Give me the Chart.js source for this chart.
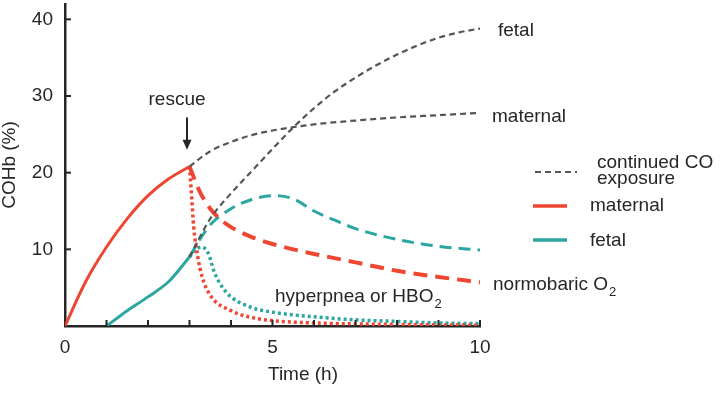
<!DOCTYPE html>
<html>
<head>
<meta charset="utf-8">
<script src="https://cdn.jsdelivr.net/npm/chart.js@4.4.0/dist/chart.umd.min.js"></script>
<style>
  body { margin: 0; background: #fff; }
  #wrap { width: 720px; height: 393px; position: relative; }
</style>
</head>
<body>
<div id="wrap"><canvas id="coChart"></canvas></div>
<script>
// hours / COHb (%)
var tMatExp = [0, 0.5, 1, 1.5, 2, 2.5, 3];
var vMatExp = [0, 5.8, 10.3, 14, 17, 19.2, 20.8];
var tFetExp = [1, 1.5, 2, 2.5, 3];
var vFetExp = [0, 2, 3.8, 5.8, 9];

var tMatCont = [3, 3.5, 4, 4.5, 5, 6, 7, 8, 9, 10];
var vMatCont = [20.8, 22.8, 24, 24.9, 25.5, 26.3, 26.8, 27.2, 27.5, 27.8];
var tFetCont = [3, 3.25, 3.5, 4, 4.5, 5, 5.5, 6, 6.5, 7, 7.5, 8, 8.5, 9, 9.5, 10];
var vFetCont = [9, 11.6, 14, 17.3, 20.2, 23.1, 25.9, 28.4, 30.6, 32.4, 34, 35.4, 36.6, 37.6, 38.3, 38.8];

var tMatO2 = [3, 3.25, 3.5, 3.75, 4, 4.5, 5, 5.5, 6, 7, 8, 9, 10];
var vMatO2 = [20.8, 17.5, 15.3, 13.9, 12.9, 11.6, 10.7, 10, 9.4, 8.3, 7.2, 6.4, 5.7];
var tFetO2 = [3, 3.25, 3.5, 4, 4.5, 5, 5.5, 6, 6.5, 7, 8, 9, 10];
var vFetO2 = [9, 11.3, 13.2, 15.3, 16.5, 17, 16.6, 15, 13.8, 12.7, 11.3, 10.4, 9.9];

var tMatHyp = [3, 3.05, 3.1, 3.2, 3.3, 3.5, 4, 4.5, 5, 6, 8, 10];
var vMatHyp = [20.8, 17, 13, 9, 6.5, 4, 2, 1.1, 0.7, 0.4, 0.2, 0.1];
var tFetHyp = [3, 3.15, 3.3, 3.45, 3.6, 3.8, 4, 4.5, 5, 6, 7, 8, 9, 10];
var vFetHyp = [9, 10, 10.3, 9.5, 7, 5, 3.8, 2.4, 1.8, 1.2, 0.8, 0.6, 0.4, 0.3];

var xTickLabels = [0, 5, 10];
var yTickLabels = [10, 20, 30, 40];

var RED = '#ef4631';
var TEAL = '#2ba6a0';
var GREY = '#555555';
var INK = '#262626';
var FONT = '"Liberation Sans", Arial, sans-serif';

function pts(ts, vs) {
  return ts.map(function (t, i) { return { x: t, y: vs[i] }; });
}

function line(ts, vs, color, width, dash) {
  return {
    data: pts(ts, vs),
    borderColor: color,
    borderWidth: width,
    borderDash: dash,
    pointRadius: 0,
    fill: false,
    cubicInterpolationMode: 'monotone'
  };
}

// tick marks point inward, labels and notes drawn on top
var notes = {
  id: 'notes',
  afterDraw: function (chart) {
    var c = chart.ctx, x = chart.scales.x, y = chart.scales.y;
    var a = chart.chartArea;
    c.save();
    c.strokeStyle = INK;
    c.lineWidth = 2;
    for (var h = 1; h <= 10; h++) {
      var px = x.getPixelForValue(h);
      c.beginPath(); c.moveTo(px, a.bottom); c.lineTo(px, a.bottom - 6); c.stroke();
    }
    yTickLabels.forEach(function (v) {
      var py = y.getPixelForValue(v);
      c.beginPath(); c.moveTo(a.left, py); c.lineTo(a.left + 6, py); c.stroke();
    });

    c.fillStyle = INK;
    c.font = '19px ' + FONT;
    c.textBaseline = 'middle';

    // rescue arrow
    c.textAlign = 'center';
    c.fillText('rescue', x.getPixelForValue(2.7), y.getPixelForValue(29.5));
    var ax = x.getPixelForValue(2.94);
    var top = y.getPixelForValue(27.2), tip = y.getPixelForValue(23);
    c.lineWidth = 2;
    c.beginPath(); c.moveTo(ax, top); c.lineTo(ax, tip - 8); c.stroke();
    c.beginPath(); c.moveTo(ax - 4.5, tip - 10); c.lineTo(ax + 4.5, tip - 10); c.lineTo(ax, tip); c.closePath(); c.fill();

    // axis titles
    c.fillText('Time (h)', 303, 375);
    c.save();
    c.translate(10, 165);
    c.rotate(-Math.PI / 2);
    c.fillText('COHb (%)', 0, 0);
    c.restore();

    // curve labels
    c.textAlign = 'left';
    c.fillText('fetal', 498, 31);
    c.fillText('maternal', 492, 117);
    withSub(c, 'normobaric O', '2', 493, 285);
    withSub(c, 'hyperpnea or HBO', '2', 275, 297);

    // key
    c.fillText('continued CO', 597, 163);
    c.fillText('exposure', 597, 179);
    c.fillText('maternal', 590, 206);
    c.fillText('fetal', 590, 241);
    c.lineWidth = 2.2;
    c.strokeStyle = GREY;
    c.setLineDash([6, 4]);
    c.beginPath(); c.moveTo(535, 172); c.lineTo(577, 172); c.stroke();
    c.setLineDash([]);
    c.lineWidth = 3.5;
    c.strokeStyle = RED;
    c.beginPath(); c.moveTo(533, 206); c.lineTo(567, 206); c.stroke();
    c.strokeStyle = TEAL;
    c.beginPath(); c.moveTo(533, 240); c.lineTo(567, 240); c.stroke();
    c.restore();
  }
};

function withSub(c, text, sub, x0, y0) {
  c.fillText(text, x0, y0);
  var w = c.measureText(text).width;
  c.save();
  c.font = '13px ' + FONT;
  c.fillText(sub, x0 + w + 1, y0 + 7);
  c.restore();
}

var ctx = document.getElementById('coChart').getContext('2d');
var chart = new Chart(ctx, {
  type: 'line',
  data: {
    datasets: [
      line(tMatCont, vMatCont, GREY, 2.2, [6, 4]),
      line(tFetCont, vFetCont, GREY, 2.2, [6, 4]),
      line(tMatO2, vMatO2, RED, 4, [14, 8]),
      line(tFetO2, vFetO2, TEAL, 3, [12, 7]),
      line(tMatHyp, vMatHyp, RED, 3.5, [3, 3]),
      line(tFetHyp, vFetHyp, TEAL, 3.5, [3, 3]),
      line(tMatExp, vMatExp, RED, 3, []),
      line(tFetExp, vFetExp, TEAL, 3, [])
    ]
  },
  options: {
    responsive: true,
    maintainAspectRatio: false,
    animation: false,
    events: [],
    layout: { padding: { left: 0, right: 240, top: 4, bottom: 0 } },
    plugins: { legend: { display: false }, tooltip: { enabled: false } },
    scales: {
      x: {
        type: 'linear',
        min: 0, max: 10,
        grid: { display: false, drawTicks: false },
        border: { display: true, color: INK, width: 2.5 },
        afterBuildTicks: function (s) { s.ticks = xTickLabels.map(function (v) { return { value: v }; }); },
        afterFit: function (s) { s.height = 67; s.paddingLeft = 0; s.paddingRight = 0; },
        ticks: { padding: 10, color: INK, font: { family: FONT, size: 19 } }
      },
      y: {
        min: 0, max: 42,
        grid: { display: false, drawTicks: false },
        border: { display: true, color: INK, width: 2.5 },
        afterBuildTicks: function (s) { s.ticks = yTickLabels.map(function (v) { return { value: v }; }); },
        afterFit: function (s) { s.width = 65; s.paddingTop = 0; s.paddingBottom = 0; },
        ticks: { padding: 12, color: INK, font: { family: FONT, size: 19 } }
      }
    }
  },
  plugins: [notes]
});
</script>
</body>
</html>
